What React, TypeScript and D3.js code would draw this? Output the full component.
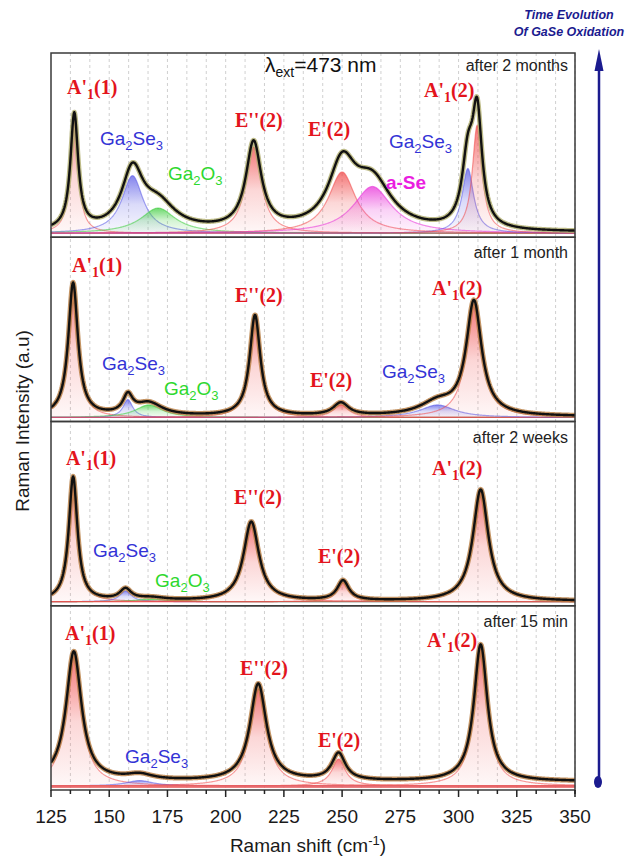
import React from 'react';
import * as d3 from 'd3';

// axis
const xTickLabels = [125, 150, 175, 200, 225, 250, 275, 300, 325, 350];
const panelTitles = ['after 2 months', 'after 1 month', 'after 2 weeks', 'after 15 min'];

// fitted Lorentzian peaks per spectrum: mode, centre (cm-1), fwhm (cm-1), height (a.u.)
type Peak = { mode: string; center: number; fwhm: number; height: number };

const peaks2Months: Peak[] = [
  { mode: 'GaSe', center: 135, fwhm: 4, height: 64 },
  { mode: 'Ga2Se3', center: 160, fwhm: 11, height: 32 },
  { mode: 'Ga2O3', center: 171, fwhm: 18, height: 14 },
  { mode: 'GaSe', center: 212, fwhm: 8, height: 48 },
  { mode: 'GaSe', center: 250, fwhm: 14, height: 34 },
  { mode: 'aSe', center: 263, fwhm: 20, height: 26 },
  { mode: 'Ga2Se3', center: 304, fwhm: 6, height: 36 },
  { mode: 'GaSe', center: 308, fwhm: 5, height: 60 },
];

const peaks1Month: Peak[] = [
  { mode: 'GaSe', center: 134.5, fwhm: 5, height: 74 },
  { mode: 'Ga2Se3', center: 158, fwhm: 5, height: 10 },
  { mode: 'Ga2O3', center: 167, fwhm: 14, height: 7 },
  { mode: 'GaSe', center: 212.6, fwhm: 5.5, height: 56 },
  { mode: 'GaSe', center: 249.5, fwhm: 8, height: 7 },
  { mode: 'Ga2Se3', center: 291, fwhm: 18, height: 7 },
  { mode: 'GaSe', center: 306.6, fwhm: 8, height: 63 },
];

const peaks2Weeks: Peak[] = [
  { mode: 'GaSe', center: 134.5, fwhm: 4.5, height: 69 },
  { mode: 'Ga2Se3', center: 157, fwhm: 6, height: 6 },
  { mode: 'Ga2O3', center: 168, fwhm: 15, height: 1.5 },
  { mode: 'GaSe', center: 211, fwhm: 8, height: 44 },
  { mode: 'GaSe', center: 250.4, fwhm: 6, height: 11 },
  { mode: 'GaSe', center: 309.5, fwhm: 8, height: 62 },
];

const peaks15Min: Peak[] = [
  { mode: 'GaSe', center: 134.8, fwhm: 8, height: 72 },
  { mode: 'Ga2Se3', center: 163, fwhm: 14, height: 3 },
  { mode: 'GaSe', center: 214, fwhm: 8.5, height: 54 },
  { mode: 'GaSe', center: 248.5, fwhm: 7, height: 15 },
  { mode: 'GaSe', center: 309.5, fwhm: 7, height: 76 },
];

const spectrumOffset = [0.5, 0.5, 0.3, 2.5];

// peak labels: kind, raman shift of the label's left edge, intensity of its baseline
type Label = { kind: string; at: number; level: number };

const labels2Months: Label[] = [
  { kind: 'A1(1)', at: 131.9, level: 77.4 },
  { kind: 'Ga2Se3', at: 146, level: 49 },
  { kind: 'Ga2O3', at: 175.2, level: 29.6 },
  { kind: 'E2(2)', at: 204, level: 59 },
  { kind: 'E1(2)', at: 235.3, level: 54.2 },
  { kind: 'Ga2Se3', at: 270.1, level: 47.4 },
  { kind: 'aSe', at: 268.8, level: 24.6 },
  { kind: 'A1(2)', at: 285.2, level: 75.7 },
];
const labels1Month: Label[] = [
  { kind: 'A1(1)', at: 134, level: 80.8 },
  { kind: 'Ga2Se3', at: 146.9, level: 26.4 },
  { kind: 'Ga2O3', at: 173.5, level: 12.5 },
  { kind: 'E2(2)', at: 204, level: 64.2 },
  { kind: 'E1(2)', at: 236.2, level: 17 },
  { kind: 'Ga2Se3', at: 267.1, level: 22 },
  { kind: 'A1(2)', at: 288.6, level: 68 },
];
const labels2Weeks: Label[] = [
  { kind: 'A1(1)', at: 131.4, level: 76 },
  { kind: 'Ga2Se3', at: 143, level: 24.9 },
  { kind: 'Ga2O3', at: 169.7, level: 8.2 },
  { kind: 'E2(2)', at: 203.6, level: 54.3 },
  { kind: 'E1(2)', at: 239.6, level: 21.5 },
  { kind: 'A1(2)', at: 288.6, level: 70.4 },
];
const labels15Min: Label[] = [
  { kind: 'A1(1)', at: 131, level: 81 },
  { kind: 'Ga2Se3', at: 156.8, level: 12.8 },
  { kind: 'E2(2)', at: 206.2, level: 61.7 },
  { kind: 'E1(2)', at: 239.6, level: 21.7 },
  { kind: 'A1(2)', at: 286.4, level: 77.2 },
];

const panelPeaks = [peaks2Months, peaks1Month, peaks2Weeks, peaks15Min];
const panelLabels = [labels2Months, labels1Month, labels2Weeks, labels15Min];

const modeColor: Record<string, string> = {
  GaSe: '#f04848',
  Ga2Se3: '#5a5ae6',
  Ga2O3: '#3ccc3c',
  aSe: '#e830d8',
};

const W = 630;
const H = 859;
const left = 51;
const right = 575;
const plotTop = 53;
const plotBottom = 790;
const panelH = (plotBottom - plotTop) / 4;

const sans = "'Liberation Sans', Arial, Helvetica, sans-serif";
const serif = "'Liberation Serif', 'Times New Roman', serif";

const x = d3.scaleLinear().domain([125, 350]).range([left, right]);
const xs = d3.range(125, 350.001, 0.25);
const minorTicks = d3.range(0, 28).map((i) => 125 + (i * 25) / 3);

const lorentz = (p: Peak, v: number) => p.height / (1 + ((v - p.center) / (p.fwhm / 2)) ** 2);

function PeakLabel({ l, y }: { l: Label; y: (v: number) => number }) {
  const px = x(l.at);
  const py = y(l.level);
  const redStyle = { fontFamily: serif, fontWeight: 700, fontSize: 20, fill: '#e3141c' };
  if (l.kind === 'A1(1)' || l.kind === 'A1(2)') {
    return (
      <text x={px} y={py} style={redStyle}>
        A'
        <tspan dy={5} fontSize={14}>1</tspan>
        <tspan dy={-5}>{l.kind === 'A1(1)' ? '(1)' : '(2)'}</tspan>
      </text>
    );
  }
  if (l.kind === 'E2(2)') return <text x={px} y={py} style={redStyle}>E''(2)</text>;
  if (l.kind === 'E1(2)') return <text x={px} y={py} style={redStyle}>E'(2)</text>;
  if (l.kind === 'aSe')
    return (
      <text x={px} y={py} fontFamily={sans} fontWeight={700} fontSize={19} fill="#ea1ee0">
        a-Se
      </text>
    );
  const green = l.kind === 'Ga2O3';
  return (
    <text x={px} y={py} fontFamily={sans} fontSize={19} fill={green ? '#2ed82e' : '#3333d6'}>
      Ga<tspan dy={5} fontSize={13}>2</tspan>
      <tspan dy={-5}>{green ? 'O' : 'Se'}</tspan>
      <tspan dy={5} fontSize={13}>3</tspan>
    </text>
  );
}

function Panel({ i }: { i: number }) {
  const top = plotTop + i * panelH;
  const bottom = top + panelH;
  const baseline = bottom - 4;
  const y = d3.scaleLinear().domain([0, 100]).range([baseline, baseline - 180]);
  const peaks = panelPeaks[i];

  const area = d3
    .area<number>()
    .x((v) => x(v))
    .y0(baseline);
  const line = d3.line<[number, number]>().x((d) => x(d[0])).y((d) => y(d[1]));

  const total: [number, number][] = xs.map((v) => [
    v,
    spectrumOffset[i] + d3.sum(peaks, (p) => lorentz(p, v)),
  ]);

  return (
    <g>
      <g clipPath={`url(#clip${i})`}>
        {peaks.map((p, k) => {
          const pts: [number, number][] = xs.map((v) => [v, lorentz(p, v)]);
          return (
            <g key={k}>
              <path
                d={area.y1((v) => y(lorentz(p, v)))(xs) || ''}
                fill={`url(#grad-${p.mode})`}
              />
              <path
                d={line(pts) || ''}
                fill="none"
                stroke={modeColor[p.mode]}
                strokeOpacity={0.55}
                strokeWidth={1.2}
              />
            </g>
          );
        })}
        {i === 3 && (
          <rect x={left} y={baseline - 1} width={right - left} height={3} fill="#e86060" opacity={0.8} />
        )}
        <path
          d={line(total) || ''}
          fill="none"
          stroke={i === 0 ? '#aeab6c' : '#b57a3e'}
          strokeOpacity={0.8}
          strokeWidth={5}
          strokeLinejoin="round"
        />
        <path d={line(total) || ''} fill="none" stroke="#111" strokeWidth={2.4} strokeLinejoin="round" />
      </g>
      <rect x={left} y={top} width={right - left} height={panelH} fill="none" stroke="#3a3a3a" strokeWidth={1.5} />
      {panelLabels[i].map((l, k) => (
        <PeakLabel key={k} l={l} y={y} />
      ))}
      <text
        x={right - 7}
        y={top + [18, 21, 21.5, 21][i]}
        textAnchor="end"
        fontFamily={sans}
        fontSize={16}
        fill="#222"
      >
        {panelTitles[i]}
      </text>
    </g>
  );
}

export default function App() {
  return (
    <div style={{ position: 'absolute', left: 0, top: 0, background: '#fff' }}>
      <svg width={W} height={H} style={{ display: 'block' }}>
        <defs>
          {Object.entries(modeColor).map(([m, c]) => (
            <linearGradient key={m} id={`grad-${m}`} x1="0" y1="0" x2="0" y2="1">
              <stop offset="0" stopColor={c} stopOpacity={0.75} />
              <stop offset="0.5" stopColor={c} stopOpacity={0.22} />
              <stop offset="1" stopColor={c} stopOpacity={0.04} />
            </linearGradient>
          ))}
          {[0, 1, 2, 3].map((i) => (
            <clipPath key={i} id={`clip${i}`}>
              <rect x={left} y={plotTop + i * panelH} width={right - left} height={panelH} />
            </clipPath>
          ))}
        </defs>
        <rect width={W} height={H} fill="#fff" />

        {/* dashed grid */}
        {minorTicks.slice(1).map((t) => (
          <line
            key={t}
            x1={x(t)}
            x2={x(t)}
            y1={plotTop}
            y2={plotBottom}
            stroke="#c4c4c4"
            strokeWidth={0.8}
            strokeDasharray="3,3"
          />
        ))}

        {[0, 1, 2, 3].map((i) => (
          <Panel key={i} i={i} />
        ))}

        {/* x axis */}
        {minorTicks.concat([350]).map((t, k) => (
          <line
            key={k}
            x1={x(t)}
            x2={x(t)}
            y1={plotBottom}
            y2={plotBottom + (k % 3 === 0 ? 7 : 4)}
            stroke="#222"
            strokeWidth={1.5}
          />
        ))}
        {xTickLabels.map((t) => (
          <text key={t} x={x(t)} y={823} textAnchor="middle" fontFamily={sans} fontSize={19} fill="#1a1a1a">
            {t}
          </text>
        ))}
        <text x={308} y={852} textAnchor="middle" fontFamily={sans} fontSize={19} fill="#1a1a1a">
          Raman shift (cm<tspan dy={-7} fontSize={13}>-1</tspan>
          <tspan dy={7}>)</tspan>
        </text>
        <text
          transform={`translate(29, 421) rotate(-90)`}
          textAnchor="middle"
          fontFamily={sans}
          fontSize={19}
          fill="#1a1a1a"
        >
          Raman Intensity (a.u)
        </text>

        {/* lambda annotation */}
        <text x={265} y={72} fontFamily={sans} fontSize={21} fill="#111">
          λ<tspan dy={5} fontSize={14}>ext</tspan>
          <tspan dy={-5}>=473 nm</tspan>
        </text>

        {/* time evolution arrow */}
        <line x1={599} x2={599} y1={66} y2={782} stroke="#1b1b8f" strokeWidth={2.5} />
        <path d="M599,49 L594.5,71 L603.5,71 Z" fill="#1b1b8f" />
        <ellipse cx={598} cy={782} rx={4} ry={6} fill="#1b1b8f" />
        <text
          x={569}
          y={19}
          textAnchor="middle"
          fontFamily={sans}
          fontWeight={700}
          fontStyle="italic"
          fontSize={12.5}
          fill="#1b1b8f"
        >
          Time Evolution
        </text>
        <text
          x={569}
          y={36}
          textAnchor="middle"
          fontFamily={sans}
          fontWeight={700}
          fontStyle="italic"
          fontSize={12.5}
          fill="#1b1b8f"
        >
          Of GaSe Oxidation
        </text>
      </svg>
    </div>
  );
}
